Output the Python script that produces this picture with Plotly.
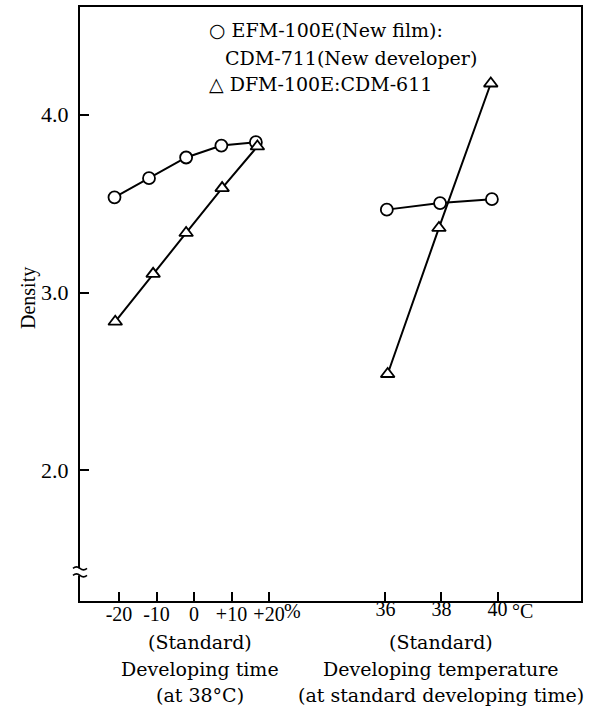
import plotly.graph_objects as go

# ---- data ----
time_pct_new = [-21.2, -12.0, -2.1, 7.3, 16.5]
dens_time_new = [3.535, 3.643, 3.759, 3.826, 3.845]
time_pct_old = [-21.0, -10.9, -2.1, 7.5, 16.9]
dens_time_old = [2.836, 3.105, 3.335, 3.587, 3.821]

temp_new = [36.05, 37.95, 39.8]
dens_temp_new = [3.466, 3.503, 3.525]
temp_old = [36.08, 37.91, 39.76]
dens_temp_old = [2.542, 3.363, 4.175]

time_ticks = [-20, -10, 0, 10, 20]
time_ticktext = ["-20", "-10", "0", "+10", "+20"]
time_unit = "%"
temp_ticks = [36, 38, 40]
temp_ticktext = ["36", "38", "40"]
temp_unit = "°C"
y_ticks = [2.0, 3.0, 4.0]
y_ticktext = ["2.0", "3.0", "4.0"]

legend_lines = ["○ EFM-100E(New film):", "CDM-711(New developer)", "△ DFM-100E:CDM-611"]
left_title = ["(Standard)", "Developing time", "(at 38°C)"]
right_title = ["(Standard)", "Developing temperature", "(at standard developing time)"]
y_title = "Density"

FONT = "DejaVu Serif"
TFONT = "Liberation Serif"
FS = 19
TFS = 20

def circ(x, y, xa):
    return go.Scatter(x=x, y=y, xaxis=xa, mode="lines+markers",
                      line=dict(color="black", width=2),
                      marker=dict(symbol="circle", size=12, color="white",
                                  line=dict(color="black", width=1.8)),
                      showlegend=False, cliponaxis=False)

def tri(x, y, xa):
    return go.Scatter(x=x, y=y, xaxis=xa, mode="lines+markers",
                      line=dict(color="black", width=2),
                      marker=dict(symbol="triangle-up", size=12, color="white",
                                  line=dict(color="black", width=1.8)),
                      showlegend=False, cliponaxis=False)

fig = go.Figure()
fig.add_trace(circ(time_pct_new, dens_time_new, "x"))
fig.add_trace(tri(time_pct_old, dens_time_old, "x"))
fig.add_trace(circ(temp_new, dens_temp_new, "x2"))
fig.add_trace(tri(temp_old, dens_temp_old, "x2"))

tickfont = dict(family=TFONT, size=TFS, color="black")
fig.update_layout(
    width=605, height=711,
    margin=dict(l=80, r=24, t=5, b=110),
    paper_bgcolor="white", plot_bgcolor="white",
    font=dict(family=FONT, size=FS, color="black"),
    xaxis=dict(range=[-30.4, 103.2], tickvals=time_ticks, ticktext=time_ticktext,
               tickangle=0, tickfont=tickfont,
               ticks="inside", ticklen=9, tickwidth=1.5, tickcolor="black",
               showline=True, linecolor="black", linewidth=2, mirror=True,
               showgrid=False, zeroline=False, ticklabelstandoff=-6),
    xaxis2=dict(range=[25.1, 42.98], tickvals=temp_ticks, ticktext=temp_ticktext,
                tickangle=0, tickfont=tickfont,
                overlaying="x", side="bottom", anchor="y",
                ticks="inside", ticklen=9, tickwidth=1.5, tickcolor="black",
                showline=False, showgrid=False, zeroline=False, ticklabelstandoff=-6),
    yaxis=dict(range=[1.266, 4.605], tickvals=y_ticks, ticktext=y_ticktext,
               tickfont=dict(family=TFONT, size=22, color="black"),
               ticks="inside", ticklen=9, tickwidth=1.5, tickcolor="black",
               showline=True, linecolor="black", linewidth=2, mirror=True,
               showgrid=False, zeroline=False, ticklabelstandoff=5),
)

# unit suffixes next to the last tick labels
tick_label_y = (601 - 611) / 596
fig.add_annotation(text=time_unit, xref="x", yref="paper", x=time_ticks[-1], xshift=13,
                   y=tick_label_y, xanchor="left", yanchor="middle", showarrow=False,
                   font=tickfont)
fig.add_annotation(text=temp_unit, xref="x2", yref="paper", x=temp_ticks[-1], xshift=12,
                   y=tick_label_y, xanchor="left", yanchor="middle", showarrow=False,
                   font=tickfont)

fig.add_annotation(text=y_title, xref="paper", yref="paper", x=(28 - 80) / 501,
                   y=(601 - 297) / 596, textangle=-90, xanchor="center", yanchor="middle",
                   showarrow=False, font=dict(family=TFONT, size=20))

# legend as text
leg_y = [28, 56, 82]
leg_x = [207, 223, 207]
for t, py, px in zip(legend_lines, leg_y, leg_x):
    fig.add_annotation(text=t, xref="paper", yref="paper",
                       x=(px - 80) / 501, y=(601 - py) / 596,
                       xanchor="left", yanchor="middle", showarrow=False,
                       font=dict(family=FONT, size=FS))

# axis titles
title_y = [642, 669, 695]
for t, py in zip(left_title, title_y):
    fig.add_annotation(text=t, xref="x", yref="paper", x=1.5, y=(601 - py) / 596,
                       xanchor="center", yanchor="middle", showarrow=False)
for t, py in zip(right_title, title_y):
    fig.add_annotation(text=t, xref="x2", yref="paper", x=38.0, y=(601 - py) / 596,
                       xanchor="center", yanchor="middle", showarrow=False)

# axis break on the y axis
brk = 1.43
fig.add_shape(type="path", xref="paper", yref="y", xsizemode="pixel", ysizemode="pixel",
              xanchor=0, yanchor=brk, path="M-3,-3.5 L3,-3.5 L3,3.5 L-3,3.5 Z",
              fillcolor="white", line=dict(width=0), layer="above")
for off in (3.5, -3.5):
    fig.add_shape(type="path", xref="paper", yref="y", xsizemode="pixel", ysizemode="pixel",
                  xanchor=0, yanchor=brk,
                  path=f"M-7,{off} Q-3.5,{off+3} 0,{off} T7,{off}",
                  line=dict(color="black", width=1.6), layer="above")

fig.write_html("out.html")
